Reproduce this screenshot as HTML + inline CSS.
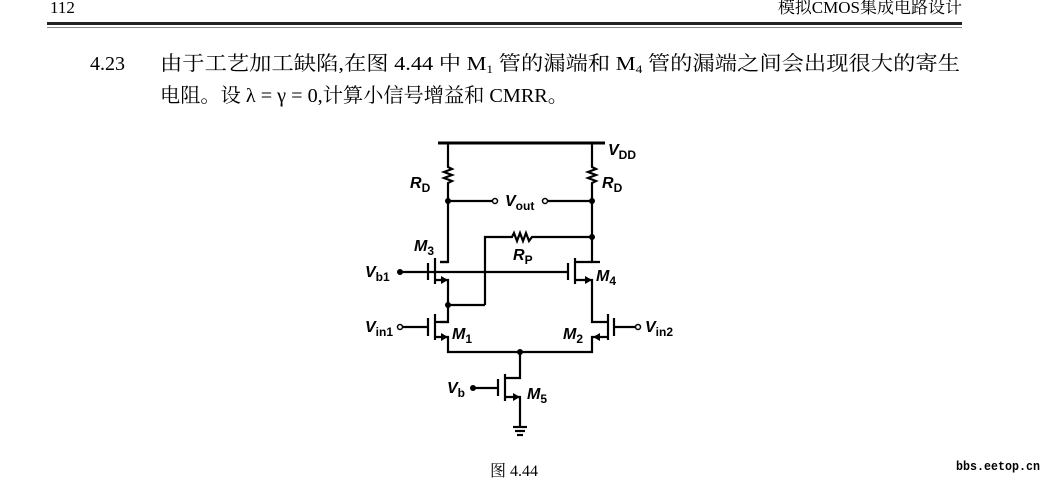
<!DOCTYPE html>
<html><head><meta charset="utf-8"><style>
html,body{margin:0;padding:0;background:#fff;}
svg{display:block}
.cn{font-family:"Liberation Serif","Noto Serif CJK SC",serif;}
.lb{font-family:"Liberation Sans",sans-serif;font-weight:bold;font-style:italic;}
.sb{font-style:normal;}
</style></head><body>
<svg width="1042" height="479" viewBox="0 0 1042 479" xmlns="http://www.w3.org/2000/svg">
<rect width="1042" height="479" fill="#fff"/>
<text x="50" y="13" class="cn" font-size="17">112</text>
<text x="962" y="13" class="cn" font-size="17" text-anchor="end">模拟CMOS集成电路设计</text>
<rect x="47" y="22" width="915" height="3" fill="#222"/>
<rect x="47" y="27" width="915" height="1" fill="#888"/>
<text x="90" y="70" class="cn" font-size="20">4.23</text>
<text x="160" y="70" class="cn" font-size="20" textLength="800" lengthAdjust="spacingAndGlyphs">由于工艺加工缺陷,在图 4.44 中 M<tspan font-size="12" dy="3">1</tspan><tspan dy="-3"> 管的漏端和 M</tspan><tspan font-size="12" dy="3">4</tspan><tspan dy="-3"> 管的漏端之间会出现很大的寄生</tspan></text>
<text x="160" y="102" class="cn" font-size="20" textLength="408" lengthAdjust="spacingAndGlyphs">电阻。设 λ = γ = 0,计算小信号增益和 CMRR。</text>

<g stroke="#000" stroke-width="2.2" fill="none">
<line x1="438" y1="143" x2="605" y2="143" stroke-width="3"/>
<polyline points="448,143 448,167 452,169 444,172 452,175 444,178 452,181 448,183 448,262 440,262"/>
<polyline points="592,143 592,167 596,169 588,172 596,175 588,178 596,181 592,183 592,262 600,262"/>
<line x1="448" y1="201" x2="492" y2="201"/>
<line x1="548" y1="201" x2="592" y2="201"/>
<polyline points="485,305 485,237 512,237 514,233 517,241 520,233 523,241 526,233 529,241 532,237 592,237"/>
<line x1="428" y1="263" x2="428" y2="280"/>
<line x1="435" y1="258" x2="435" y2="284"/>
<polyline points="440,262 448,262"/>
<polyline points="435,280 448,280 448,322 440,322"/>
<line x1="448" y1="305" x2="485" y2="305"/>
<line x1="402" y1="272" x2="568" y2="272"/>
<line x1="568" y1="263" x2="568" y2="280"/>
<line x1="575" y1="258" x2="575" y2="284"/>
<polyline points="575,262 592,262"/>
<polyline points="575,280 592,280 592,322 608,322"/>
<line x1="428" y1="318" x2="428" y2="336"/>
<line x1="435" y1="314" x2="435" y2="340"/>
<line x1="435" y1="322" x2="448" y2="322"/>
<polyline points="435,337 448,337 448,352 592,352 592,337 608,337"/>
<line x1="403" y1="327" x2="428" y2="327"/>
<line x1="608" y1="314" x2="608" y2="340"/>
<line x1="614" y1="318" x2="614" y2="336"/>
<line x1="614" y1="327" x2="635" y2="327"/>
<polyline points="520,352 520,378 505,378"/>
<line x1="505" y1="374" x2="505" y2="401"/>
<line x1="498" y1="379" x2="498" y2="396"/>
<line x1="475" y1="388" x2="498" y2="388"/>
<polyline points="505,397 520,397 520,427"/>
<line x1="513" y1="427" x2="527" y2="427"/>
<line x1="515" y1="431" x2="525" y2="431"/>
<line x1="517" y1="435" x2="523" y2="435"/>
</g>
<g fill="#000">
<polygon points="448,280 441,276 441,284"/>
<polygon points="592,280 585,276 585,284"/>
<polygon points="448,337 441,333 441,341"/>
<polygon points="593,337 600,333 600,341"/>
<polygon points="520,397 513,393 513,401"/>
<circle cx="448" cy="201" r="3"/><circle cx="592" cy="201" r="3"/>
<circle cx="592" cy="237" r="3"/><circle cx="448" cy="305" r="3"/>
<circle cx="520" cy="352" r="3"/>
<circle cx="400" cy="272" r="3"/><circle cx="473" cy="388" r="3"/>
</g>
<g fill="#fff" stroke="#000" stroke-width="1.5">
<circle cx="495" cy="201" r="2.5"/><circle cx="545" cy="201" r="2.5"/>
<circle cx="400" cy="327" r="2.5"/><circle cx="638" cy="327" r="2.5"/>
</g>
<g class="lb" font-size="16" fill="#000">
<text x="608" y="155">V<tspan class="sb" font-size="12" dy="4">DD</tspan></text>
<text x="410" y="188">R<tspan class="sb" font-size="12" dy="4">D</tspan></text>
<text x="602" y="188">R<tspan class="sb" font-size="12" dy="4">D</tspan></text>
<text x="505" y="206">V<tspan class="sb" font-size="12" dy="4">out</tspan></text>
<text x="513" y="260">R<tspan class="sb" font-size="12" dy="4">P</tspan></text>
<text x="414" y="251">M<tspan class="sb" font-size="12" dy="4">3</tspan></text>
<text x="596" y="281">M<tspan class="sb" font-size="12" dy="4">4</tspan></text>
<text x="365" y="277">V<tspan class="sb" font-size="12" dy="4">b1</tspan></text>
<text x="365" y="332">V<tspan class="sb" font-size="12" dy="4">in1</tspan></text>
<text x="452" y="339">M<tspan class="sb" font-size="12" dy="4">1</tspan></text>
<text x="563" y="339">M<tspan class="sb" font-size="12" dy="4">2</tspan></text>
<text x="645" y="332">V<tspan class="sb" font-size="12" dy="4">in2</tspan></text>
<text x="447" y="393">V<tspan class="sb" font-size="12" dy="4">b</tspan></text>
<text x="527" y="399">M<tspan class="sb" font-size="12" dy="4">5</tspan></text>
</g>
<text x="490" y="476" class="cn" font-size="16">图 4.44</text>
<text x="1040" y="470" text-anchor="end" font-family="Liberation Mono,monospace" font-weight="bold" font-size="13" textLength="84" lengthAdjust="spacingAndGlyphs">bbs.eetop.cn</text>
</svg>
</body></html>
